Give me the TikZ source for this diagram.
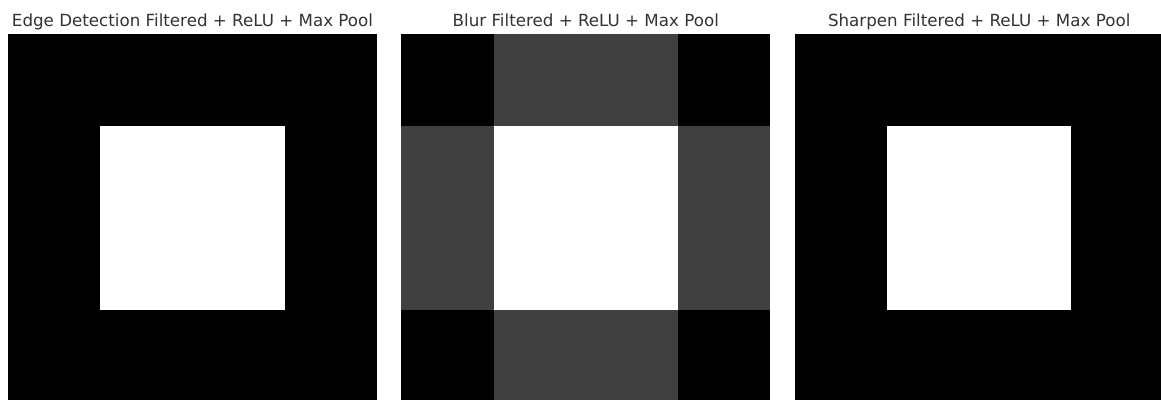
\documentclass[tikz,border=0pt]{standalone}
\usepackage{fontspec}
\setmainfont{DejaVu Sans}
\usetikzlibrary{positioning}
\begin{document}
\begin{tikzpicture}[
  x=1pt, y=-1pt,
  ttl/.style={font=\fontsize{16.7}{20}\selectfont, text=black!80, anchor=base, inner sep=0pt},
  mid/.style={fill=black!75, draw=none}
]
  \useasboundingbox (0,0) rectangle (1161,399);
  \fill[white] (0,0) rectangle (1161,399);
  \begin{scope}
    \clip (0,0) rectangle (1161,399);
    % edge detection
    \fill[black] (8,33.5) rectangle ++(369,369);
    \fill[white] (100.25,125.75) rectangle (284.75,310.25);
    % blur
    \fill[black] (401.3,33.5) rectangle ++(369,369);
    \fill[mid] (493.55,33.5) rectangle ++(184.5,369);
    \fill[mid] (401.3,125.75) rectangle ++(369,184.5);
    \fill[white] (493.55,125.75) rectangle ++(184.5,184.5);
    % sharpen
    \fill[black] (794.7,33.5) rectangle ++(369,369);
    \fill[white] (886.95,125.75) rectangle ++(184.5,184.5);
  \end{scope}
  \node[ttl] (edge) at (192.5,26.5) {Edge Detection Filtered + ReLU + Max Pool};
  \node[ttl] (blur) at (585.8,26.5) {Blur Filtered + ReLU + Max Pool};
  \node[ttl] (sharp) at (979.2,26.5) {Sharpen Filtered + ReLU + Max Pool};
\end{tikzpicture}
\end{document}
